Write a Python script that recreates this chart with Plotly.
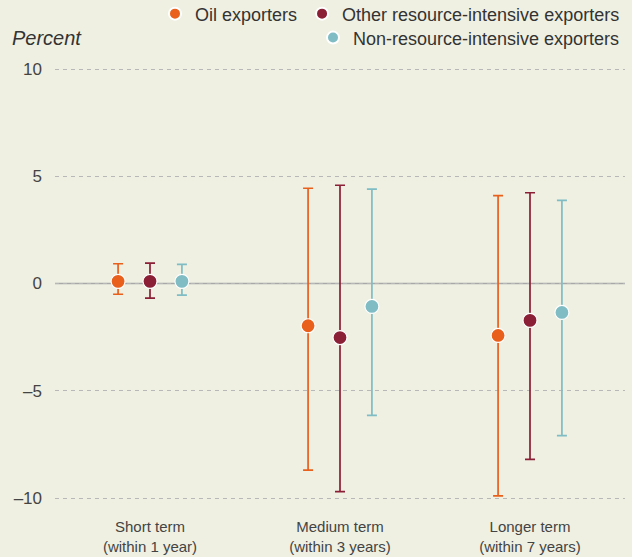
import plotly.graph_objects as go

categories = ["Short term<br>(within 1 year)", "Medium term<br>(within 3 years)", "Longer term<br>(within 7 years)"]
series_names = ["Oil exporters", "Other resource-intensive exporters", "Non-resource-intensive exporters"]
oil_mid = [0.1, -1.97, -2.42]
oil_hi = [0.92, 4.44, 4.1]
oil_lo = [-0.5, -8.7, -9.9]
other_mid = [0.1, -2.52, -1.72]
other_hi = [0.95, 4.58, 4.23]
other_lo = [-0.68, -9.7, -8.2]
non_mid = [0.1, -1.07, -1.35]
non_hi = [0.89, 4.4, 3.88]
non_lo = [-0.54, -6.15, -7.09]
y_tickvals = [10, 5, 0, -5, -10]
y_ticktext = ["10", "5", "0", "\u20135", "\u201310"]

colors = ["#e8601c", "#8b1f35", "#7fbcc4"]
offsets = [-0.168, 0.0, 0.168]
mids = [oil_mid, other_mid, non_mid]
his = [oil_hi, other_hi, non_hi]
los = [oil_lo, other_lo, non_lo]
legends = ["legend", "legend", "legend2"]

fig = go.Figure()
for i in range(3):
    xs = [k + offsets[i] for k in range(len(categories))]
    fig.add_trace(go.Scatter(
        x=xs, y=mids[i], mode="markers", name=series_names[i],
        legend=legends[i],
        marker=dict(size=14, color=colors[i], line=dict(color="white", width=1.2)),
        error_y=dict(type="data", symmetric=False,
                     array=[h - m for h, m in zip(his[i], mids[i])],
                     arrayminus=[m - l for m, l in zip(mids[i], los[i])],
                     color=colors[i], thickness=1.7, width=5),
    ))

bg = "#eff0e2"
fig.update_layout(
    width=632, height=557,
    paper_bgcolor=bg, plot_bgcolor=bg,
    margin=dict(l=55, r=7, t=68, b=48),
    font=dict(family="Liberation Sans, Arial, sans-serif", color="#444"),
    showlegend=True,
    legend=dict(orientation="h", x=1.0, xanchor="right", yref="container", y=0.975, yanchor="middle",
                font=dict(size=18, color="#333"), bgcolor="rgba(0,0,0,0)", itemwidth=30,
                itemsizing="constant", traceorder="normal"),
    legend2=dict(orientation="h", x=1.0, xanchor="right", yref="container", y=0.932, yanchor="middle",
                 font=dict(size=18, color="#333"), bgcolor="rgba(0,0,0,0)", itemwidth=30,
                 itemsizing="constant"),
    xaxis=dict(range=[-0.5, 2.5], tickvals=[0, 1, 2], ticktext=categories, automargin=False,
               showgrid=False, zeroline=False, showline=False, ticks="", ticklabelstandoff=7,
               tickfont=dict(size=15, color="#444")),
    yaxis=dict(range=[-10.513, 10.047], tickvals=y_tickvals, ticktext=y_ticktext, automargin=False,
               showgrid=True, gridcolor="#b8b8b8", griddash="4px,4px", gridwidth=1,
               zeroline=False, showline=False, ticks="", ticklabelstandoff=12,
               tickfont=dict(size=17, color="#444")),
    annotations=[dict(text="<i>Percent</i>", xref="paper", yref="paper", x=-0.079, y=1.068,
                      xanchor="left", yanchor="middle", showarrow=False,
                      font=dict(size=20, color="#333"))],
)
fig.add_hline(y=0, line=dict(color="#a8a8a8", width=1.5), layer="below")

fig.write_html("out.html", config={"displayModeBar": False},
               post_script="document.body.style.margin='0px';document.body.style.background='#eff0e2';")
